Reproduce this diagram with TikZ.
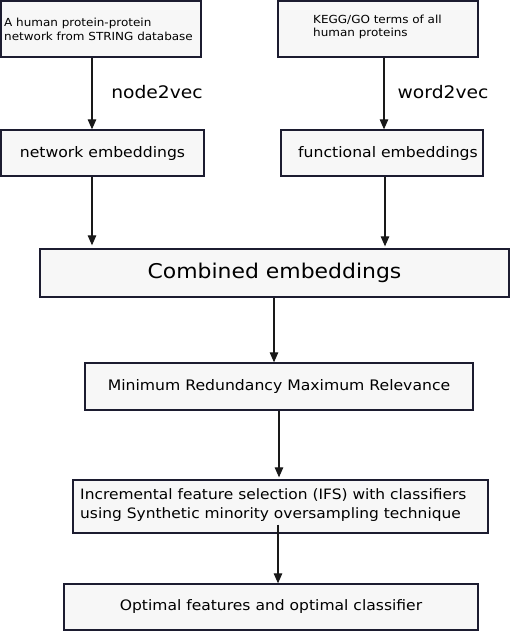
\documentclass[tikz,border=0pt]{standalone}
\usepackage{fontspec}
\setmainfont{DejaVu Sans}[FakeStretch=1.08]
\usetikzlibrary{arrows.meta}
\definecolor{boxline}{HTML}{1C1C30}
\definecolor{boxfill}{HTML}{F7F7F7}
\tikzset{
    stepbox/.style={draw=boxline,fill=boxfill,line width=1.3pt,inner sep=0pt},
    flow/.style={-{Triangle[length=10pt,width=8.5pt]},line width=1.1pt,black!90}
}
\begin{document}
\begin{tikzpicture}[x=1pt,y=-1pt]
        \useasboundingbox (0,0) rectangle (510,631);

        %%%%%%%% Sources %%%%%%%%
        \node[stepbox,minimum width=200pt,minimum height=56pt] (string) at (101,29) {};
        \node[anchor=west,align=left,inner sep=0pt,font=\fontsize{11.1}{13.5}\selectfont] (stringtxt) at (4,29.5) {A human protein-protein\\network from STRING database};
        \node[stepbox,minimum width=200pt,minimum height=56pt] (kegg) at (378,29) {};
        \node[anchor=west,align=left,inner sep=0pt,font=\fontsize{11.1}{13.5}\selectfont] (keggtxt) at (313,27) {KEGG/GO terms of all\\human proteins};

        %%%%%%%% Embeddings %%%%%%%%
        \node[stepbox,minimum width=203pt,minimum height=46pt,font=\fontsize{14.5}{17}\selectfont] (netemb) at (102.5,153) {network embeddings};
        \node[stepbox,minimum width=202pt,minimum height=46pt,font=\fontsize{14.5}{17}\selectfont] (funemb) at (382,153) {\hspace*{12pt}functional embeddings};
        \node[font=\fontsize{17.3}{20}\selectfont] (n2v) at (157,92) {node2vec};
        \node[font=\fontsize{17.3}{20}\selectfont] (w2v) at (443,92) {word2vec};

        %%%%%%%% Pipeline %%%%%%%%
        \node[stepbox,minimum width=469pt,minimum height=48pt,font=\fontsize{20.3}{24}\selectfont] (comb) at (274.5,273) {Combined embeddings};
        \node[stepbox,minimum width=388pt,minimum height=47pt,font=\fontsize{14.5}{17}\selectfont] (mrmr) at (279,386.5) {Minimum Redundancy Maximum Relevance};
        \node[stepbox,minimum width=415pt,minimum height=53pt] (ifs) at (280.5,506.5) {};
        \node[anchor=west,align=left,inner sep=0pt,font=\fontsize{14.3}{19}\selectfont] (ifstxt) at (80,505.5) {Incremental feature selection (IFS) with classifiers\\using Synthetic minority oversampling technique};
        \node[stepbox,minimum width=414pt,minimum height=46pt,font=\fontsize{14.4}{17}\selectfont] (optim) at (271,607) {Optimal features and optimal classifier};

        %%%%%%%% Arrows %%%%%%%%
        \draw[flow] ([xshift=-9pt]string.south) -- ([xshift=-10.5pt]netemb.north);
        \draw[flow] ([xshift=6pt]kegg.south) -- ([xshift=2pt]funemb.north);
        \draw[flow] ([xshift=-10.5pt]netemb.south) -- ([xshift=-182.5pt,yshift=3pt]comb.north);
        \draw[flow] ([xshift=3pt]funemb.south) -- ([xshift=110.5pt,yshift=2pt]comb.north);
        \draw[flow] ([xshift=-0.5pt]comb.south) -- ([xshift=-5pt]mrmr.north);
        \draw[flow] (mrmr.south) -- ([xshift=-1.5pt,yshift=2pt]ifs.north);
        \draw[flow] ([xshift=-2.5pt,yshift=9pt]ifs.south) -- ([xshift=7pt]optim.north);
    \end{tikzpicture}
\end{document}
